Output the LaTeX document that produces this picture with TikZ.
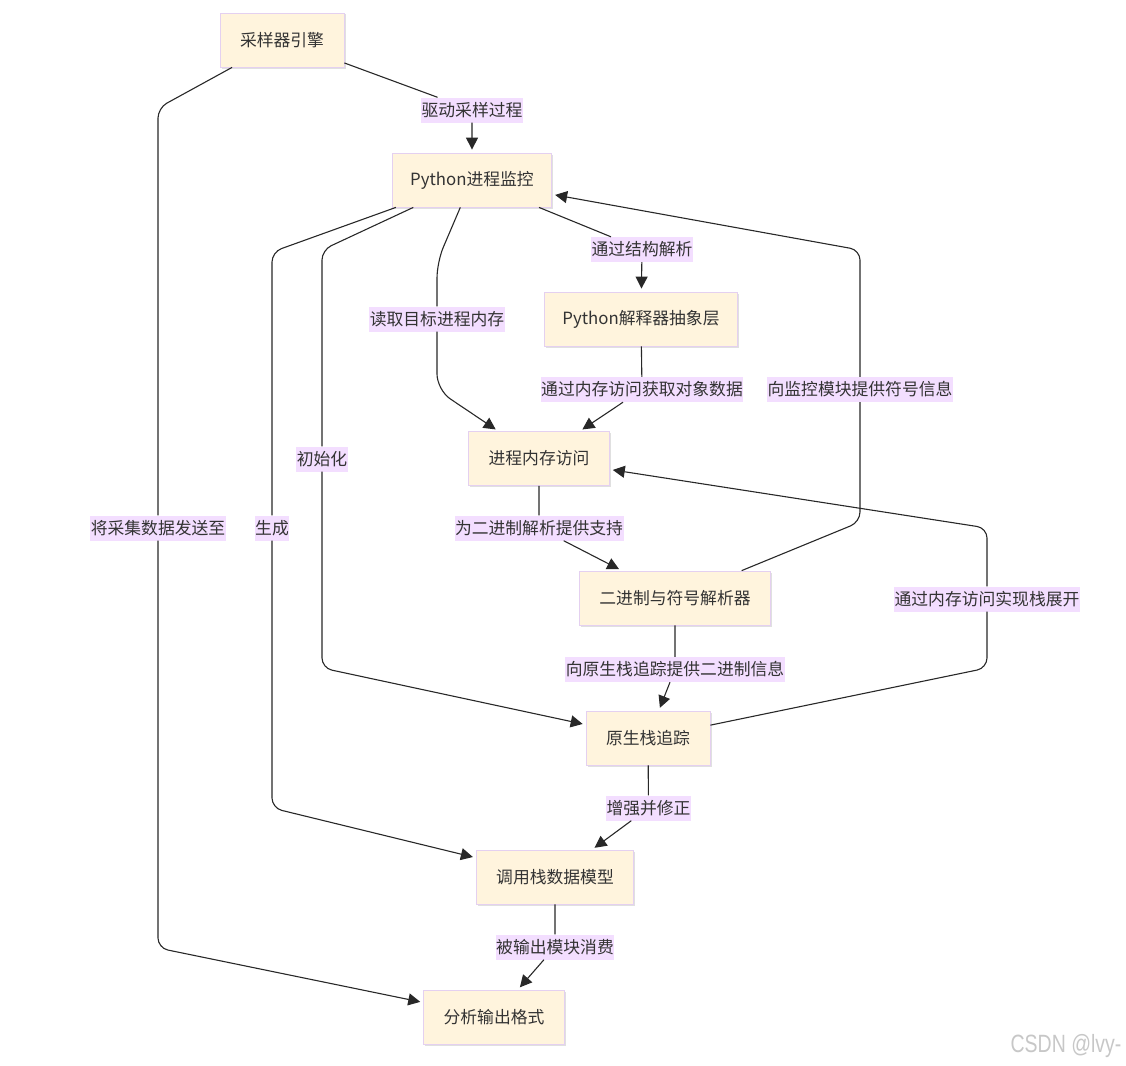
\documentclass[tikz,border=0pt]{standalone}
\usepackage{fontspec}
\setmainfont{Noto Sans CJK SC}
\newfontfamily\markfont{Liberation Sans}
\usetikzlibrary{arrows.meta, shadows}
\definecolor{cnode}{RGB}{255, 244, 221}
\definecolor{cedge}{RGB}{228, 208, 240}
\definecolor{clabel}{RGB}{243, 222, 255}
\definecolor{cline}{RGB}{40, 40, 40}
\definecolor{ctext}{RGB}{51, 51, 51}
\tikzset{
  box/.style={draw=cedge, fill=cnode, line width=0.8pt, minimum height=54pt,
              inner xsep=20pt, text=ctext, font=\fontsize{16.8}{20}\selectfont,
              drop shadow={shadow xshift=1.5pt, shadow yshift=-1.5pt, opacity=0.35, fill=black!35}},
  elab/.style={fill=clabel, inner xsep=0.5pt, inner ysep=0pt, minimum height=25pt,
               text=ctext, font=\fontsize{16.8}{20}\selectfont},
  arr/.style={-{Triangle[length=12pt, width=12pt]}, line width=1.1pt, draw=cline,
              shorten >=3pt, rounded corners=10pt},
}

\begin{document}
\begin{tikzpicture}[x=1pt, y=-1pt]
\useasboundingbox (0,0) rectangle (1126,1065);

% ---------- 节点 ----------
\node[box] (sampler) at (282,40)   {采样器引擎};
\node[box, inner xsep=18pt] (monitor) at (472,180) {Python进程监控};
\node[box, inner xsep=18pt] (interp)  at (641,319) {Python解释器抽象层};
\node[box] (memory)  at (539,458.5){进程内存访问};
\node[box] (binsym)  at (675,598)  {二进制与符号解析器};
\node[box] (native)  at (648,738)  {原生栈追踪};
\node[box] (model)   at (555,877)  {调用栈数据模型};
\node[box] (output)  at (494,1017) {分析输出格式};

% ---------- 连线标签 ----------
\node[elab] (l1)  at (472,110)   {驱动采样过程};
\node[elab] (l2)  at (158,528)   {将采集数据发送至};
\node[elab] (l3)  at (437,319)   {读取目标进程内存};
\node[elab] (l4)  at (642,249.5) {通过结构解析};
\node[elab] (l5)  at (322,459)   {初始化};
\node[elab] (l6)  at (272,528)   {生成};
\node[elab] (l7)  at (642,389.5) {通过内存访问获取对象数据};
\node[elab] (l8)  at (539,528)   {为二进制解析提供支持};
\node[elab] (l9)  at (860,389.5) {向监控模块提供符号信息};
\node[elab] (l10) at (675,669.5) {向原生栈追踪提供二进制信息};
\node[elab] (l11) at (987,599)   {通过内存访问实现栈展开};
\node[elab] (l12) at (648.5,808) {增强并修正};
\node[elab] (l13) at (555,947)   {被输出模块消费};

% ---------- 连线 ----------
\draw[arr] (sampler) -- (l1) -- (monitor);
\draw[arr] (sampler) -- (158,108) -- (l2) -- (158,948) -- (output);
\draw[arr, rounded corners=16pt] (monitor) -- (437,262) -- (l3) -- (437,390) -- (memory);
\draw[arr] (monitor) -- (l4) -- (interp);
\draw[arr] (monitor) -- (322,250) -- (l5) -- (322,668) -- (native);
\draw[arr] (monitor) -- (272,252) -- (l6) -- (272,808) -- (model);
\draw[arr] (interp) -- (l7) -- (memory);
\draw[arr] (memory) -- (l8) -- (binsym);
\draw[arr] (binsym) -- (860,522) -- (l9) -- (860,250) -- (monitor);
\draw[arr] (binsym) -- (l10) -- (native);
\draw[arr] (native) -- (987,668) -- (l11) -- (987,528) -- (memory);
\draw[arr] (native) -- (l12) -- (model);
\draw[arr] (model) -- (l13) -- (output);

% 水印
\node[text=black!22] (mark) at (1066,1046)
  {\scalebox{0.78}[1]{\markfont\fontsize{25}{25}\selectfont CSDN @lvy-}};

\end{tikzpicture}
\end{document}
